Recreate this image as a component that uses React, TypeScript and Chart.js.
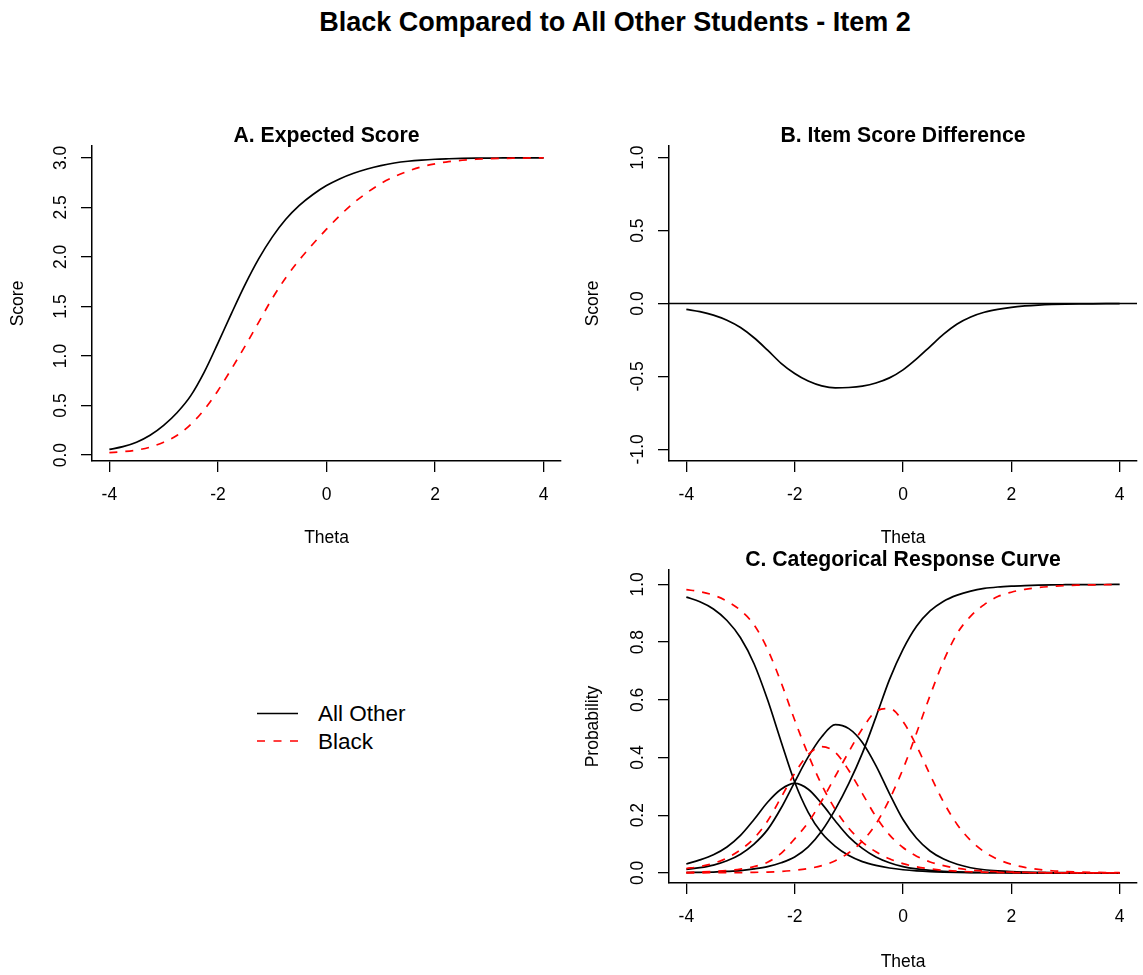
import React, { useEffect, useRef } from "react";
import { Chart, registerables } from "chart.js";

Chart.register(...registerables);

const FONT = '"Liberation Sans", Arial, Helvetica, sans-serif';

// ---------------- data ----------------
const theta = [
  -4, -3.75, -3.5, -3.25, -3, -2.75, -2.5, -2.25, -2, -1.75, -1.5, -1.25, -1, -0.75, -0.5, -0.25,
  0, 0.25, 0.5, 0.75, 1, 1.25, 1.5, 1.75, 2, 2.25, 2.5, 2.75, 3, 3.25, 3.5, 3.75, 4,
];

// Panel A: expected score
const expectedAllOther = [
  0.057, 0.085, 0.13, 0.2, 0.3, 0.43, 0.6, 0.84, 1.13, 1.43, 1.72, 1.98, 2.2, 2.38, 2.52, 2.63,
  2.72, 2.79, 2.845, 2.888, 2.922, 2.948, 2.966, 2.978, 2.986, 2.991, 2.995, 2.997, 2.998, 2.999, 3.0, 3.0, 3.0,
];
const expectedBlack = [
  0.024, 0.034, 0.05, 0.08, 0.13, 0.2, 0.31, 0.46, 0.65, 0.87, 1.1, 1.34, 1.58, 1.79, 1.97, 2.13,
  2.28, 2.42, 2.545, 2.65, 2.74, 2.81, 2.865, 2.91, 2.94, 2.962, 2.976, 2.986, 2.992, 2.995, 2.997, 2.999, 3.0,
];

// Panel B: item score difference (Black - All Other)
const scoreDifference = [
  -0.04, -0.056, -0.08, -0.115, -0.165, -0.235, -0.32, -0.41, -0.48, -0.532, -0.565, -0.579, -0.576, -0.566, -0.545, -0.51,
  -0.455, -0.38, -0.295, -0.21, -0.14, -0.092, -0.06, -0.04, -0.026, -0.017, -0.011, -0.007, -0.0045, -0.003, -0.002, -0.0012, -0.0008,
];
const zeroLineY = 0;

// Panel C: categorical response curves
const catAllOther0 = [
  0.956, 0.94, 0.915, 0.875, 0.815, 0.725, 0.6, 0.455, 0.315, 0.21, 0.138, 0.092, 0.06, 0.039, 0.026, 0.017,
  0.011, 0.007, 0.0045, 0.003, 0.002, 0.0013, 0.0008, 0.0005, 0.0003, 0.0002, 0.0001, 0.0001, 0, 0, 0, 0, 0,
];
const catAllOther1 = [
  0.031, 0.045, 0.063, 0.09, 0.13, 0.185, 0.245, 0.29, 0.31, 0.29, 0.24, 0.18, 0.125, 0.085, 0.055, 0.035,
  0.022, 0.014, 0.009, 0.0055, 0.0035, 0.002, 0.0013, 0.0008, 0.0005, 0.0003, 0.0002, 0.0001, 0.0001, 0, 0, 0, 0,
];
const catAllOther2 = [
  0.012, 0.018, 0.027, 0.042, 0.065, 0.1, 0.15, 0.225, 0.315, 0.402, 0.472, 0.514, 0.5, 0.452, 0.372, 0.275,
  0.185, 0.12, 0.076, 0.048, 0.03, 0.018, 0.011, 0.007, 0.0045, 0.003, 0.002, 0.0012, 0.0008, 0.0005, 0.0003, 0.0002, 0.0001,
];
const catAllOther3 = [
  0.001, 0.002, 0.003, 0.005, 0.008, 0.014, 0.022, 0.035, 0.055, 0.09, 0.145, 0.22, 0.31, 0.415, 0.54, 0.67,
  0.775, 0.855, 0.908, 0.942, 0.963, 0.977, 0.986, 0.991, 0.994, 0.996, 0.9975, 0.9985, 0.999, 0.9994, 0.9996, 0.9998, 0.9999,
];
const catBlack0 = [
  0.982, 0.975, 0.963, 0.942, 0.91, 0.86, 0.775, 0.66, 0.53, 0.41, 0.305, 0.22, 0.155, 0.107, 0.073, 0.049,
  0.032, 0.021, 0.014, 0.009, 0.006, 0.004, 0.0025, 0.0016, 0.001, 0.0007, 0.0004, 0.0003, 0.0002, 0.0001, 0.0001, 0, 0,
];
const catBlack1 = [
  0.015, 0.022, 0.033, 0.052, 0.08, 0.12, 0.18, 0.262, 0.345, 0.41, 0.438, 0.418, 0.355, 0.275, 0.195, 0.132,
  0.088, 0.058, 0.038, 0.025, 0.016, 0.01, 0.0065, 0.004, 0.0026, 0.0017, 0.001, 0.0007, 0.0004, 0.0003, 0.0002, 0.0001, 0.0001,
];
const catBlack2 = [
  0.002, 0.003, 0.005, 0.008, 0.013, 0.022, 0.037, 0.068, 0.118, 0.175, 0.25, 0.335, 0.42, 0.5, 0.56, 0.57,
  0.525, 0.44, 0.34, 0.245, 0.168, 0.112, 0.073, 0.047, 0.03, 0.019, 0.012, 0.0075, 0.0047, 0.003, 0.0019, 0.0012, 0.0008,
];
const catBlack3 = [
  0, 0.0003, 0.0005, 0.0008, 0.001, 0.002, 0.003, 0.005, 0.009, 0.015, 0.025, 0.042, 0.07, 0.11, 0.17, 0.255,
  0.36, 0.485, 0.615, 0.735, 0.83, 0.89, 0.93, 0.958, 0.973, 0.983, 0.989, 0.993, 0.996, 0.9975, 0.9985, 0.999, 0.9995,
];

const groupLabels = ["All Other", "Black"];
const mainTitle = "Black Compared to All Other Students - Item 2";

// ---------------- styling ----------------
const BLACK = "#000000";
const RED = "#FF0000";
const DASH = [8, 8];
const CURVE_W = 1.7;
const X_MIN = -4.32;
const X_MAX = 4.32;
const TICK_FONT = { family: FONT, size: 17.5 };

const pts = (ys: number[]) => theta.map((t, i) => ({ x: t, y: ys[i] }));

function curve(label: string, ys: number[], red: boolean) {
  return {
    label,
    data: pts(ys),
    borderColor: red ? RED : BLACK,
    borderWidth: CURVE_W,
    borderDash: red ? DASH : [],
    pointRadius: 0,
    fill: false,
    cubicInterpolationMode: "monotone" as const,
  };
}

function xScale(height: number, titlePadBottom: number, tickPad: number) {
  return {
    type: "linear" as const,
    min: X_MIN,
    max: X_MAX,
    afterFit: (s: any) => {
      s.height = height;
    },
    border: { display: true, color: BLACK, width: 1.5 },
    grid: { display: true, drawOnChartArea: false, drawTicks: true, tickLength: 11, color: BLACK, lineWidth: 1.3 },
    ticks: {
      stepSize: 2,
      includeBounds: false,
      autoSkip: false,
      minRotation: 0,
      maxRotation: 0,
      padding: tickPad,
      color: BLACK,
      font: TICK_FONT,
      callback: (v: any) => String(v),
    },
    title: {
      display: true,
      text: "Theta",
      color: BLACK,
      font: TICK_FONT,
      padding: { top: 0, bottom: titlePadBottom },
    },
  };
}

function yScale(min: number, max: number, step: number, width: number, title: string, titlePadTop: number, tickPad: number) {
  return {
    type: "linear" as const,
    min,
    max,
    afterFit: (s: any) => {
      s.width = width;
    },
    border: { display: true, color: BLACK, width: 1.5 },
    grid: { display: true, drawOnChartArea: false, drawTicks: true, tickLength: 11, color: BLACK, lineWidth: 1.3 },
    ticks: {
      stepSize: step,
      includeBounds: false,
      autoSkip: false,
      minRotation: 90,
      maxRotation: 90,
      crossAlign: "center" as const,
      padding: tickPad,
      color: BLACK,
      font: TICK_FONT,
      callback: (v: any) => Number(v).toFixed(1),
    },
    title: {
      display: true,
      text: title,
      color: BLACK,
      font: TICK_FONT,
      padding: { top: titlePadTop, bottom: 0 },
    },
  };
}

function panelTitle(text: string, padTop: number, padBottom: number) {
  return {
    display: true,
    text,
    fullSize: false,
    color: BLACK,
    font: { family: FONT, size: 21.2, weight: "bold" as const, lineHeight: 0.9 },
    padding: { top: padTop, bottom: padBottom },
  };
}

function baseOptions(title: any, padding: any, scales: any) {
  return {
    responsive: false,
    animation: false as const,
    devicePixelRatio: 1,
    layout: { padding },
    plugins: {
      title,
      legend: { display: false },
      tooltip: { enabled: false },
    },
    events: [] as any[],
    scales,
  };
}

export default function App() {
  const refA = useRef<HTMLCanvasElement>(null);
  const refB = useRef<HTMLCanvasElement>(null);
  const refC = useRef<HTMLCanvasElement>(null);

  useEffect(() => {
    const charts: Chart[] = [];

    // Panel A
    charts.push(
      new Chart(refA.current!, {
        type: "line",
        data: {
          datasets: [curve(groupLabels[1], expectedBlack, true), curve(groupLabels[0], expectedAllOther, false)],
        },
        options: baseOptions(
          panelTitle("A. Expected Score", 26.9, 0),
          { top: 0, right: 10, bottom: 0, left: 0 },
          {
            x: xScale(109, 21.5, 12.5),
            y: yScale(-0.06, 3.12, 0.5, 92, "Score", 7.5, 7.8),
          }
        ) as any,
      })
    );

    // Panel B
    charts.push(
      new Chart(refB.current!, {
        type: "line",
        data: {
          datasets: [
            {
              label: "zero",
              data: [
                { x: X_MIN, y: zeroLineY },
                { x: X_MAX, y: zeroLineY },
              ],
              borderColor: BLACK,
              borderWidth: 1.5,
              pointRadius: 0,
              fill: false,
            },
            curve("Difference", scoreDifference, false),
          ],
        },
        options: baseOptions(
          panelTitle("B. Item Score Difference", 26.9, 0),
          { top: 0, right: 6, bottom: 0, left: 0 },
          {
            x: xScale(109, 21.5, 12.5),
            y: yScale(-1.08, 1.08, 0.5, 98, "Score", 11.5, 4.9),
          }
        ) as any,
      })
    );

    // Panel C
    charts.push(
      new Chart(refC.current!, {
        type: "line",
        data: {
          datasets: [
            curve(groupLabels[1] + " 0", catBlack0, true),
            curve(groupLabels[1] + " 1", catBlack1, true),
            curve(groupLabels[1] + " 2", catBlack2, true),
            curve(groupLabels[1] + " 3", catBlack3, true),
            curve(groupLabels[0] + " 0", catAllOther0, false),
            curve(groupLabels[0] + " 1", catAllOther1, false),
            curve(groupLabels[0] + " 2", catAllOther2, false),
            curve(groupLabels[0] + " 3", catAllOther3, false),
          ],
        },
        options: baseOptions(
          panelTitle("C. Categorical Response Curve", 30.45, 0.47),
          { top: 0, right: 6, bottom: 0, left: 0 },
          {
            x: xScale(92, 2.5, 13),
            y: yScale(-0.035, 1.05, 0.2, 98, "Probability", 11.5, 7.8),
          }
        ) as any,
      })
    );

    return () => charts.forEach((c) => c.destroy());
  }, []);

  const canvasStyle = (left: number, top: number, w: number, h: number): React.CSSProperties => ({
    position: "absolute",
    left,
    top,
    width: w,
    height: h,
  });

  return (
    <div style={{ position: "absolute", left: 0, top: 0, width: 1143, height: 975, background: "#ffffff", overflow: "hidden" }}>
      <svg width={1143} height={975} style={{ position: "absolute", left: 0, top: 0 }}>
        <text
          x={615}
          y={22}
          textAnchor="middle"
          dominantBaseline="central"
          fontFamily={FONT}
          fontSize={27}
          fontWeight="bold"
          fill={BLACK}
        >
          {mainTitle}
        </text>
        <line x1={257} y1={713.5} x2={298} y2={713.5} stroke={BLACK} strokeWidth={CURVE_W} />
        <line x1={257} y1={741} x2={298} y2={741} stroke={RED} strokeWidth={CURVE_W} strokeDasharray="8 8.5" />
        <text x={318} y={713.5} dominantBaseline="central" fontFamily={FONT} fontSize={22.5} fill={BLACK}>
          {groupLabels[0]}
        </text>
        <text x={318} y={741} dominantBaseline="central" fontFamily={FONT} fontSize={22.5} fill={BLACK}>
          {groupLabels[1]}
        </text>
      </svg>
      <canvas ref={refA} width={571} height={470} style={canvasStyle(0, 100, 571, 470)} />
      <canvas ref={refB} width={572} height={470} style={canvasStyle(571, 100, 572, 470)} />
      <canvas ref={refC} width={572} height={455} style={canvasStyle(571, 520, 572, 455)} />
    </div>
  );
}
